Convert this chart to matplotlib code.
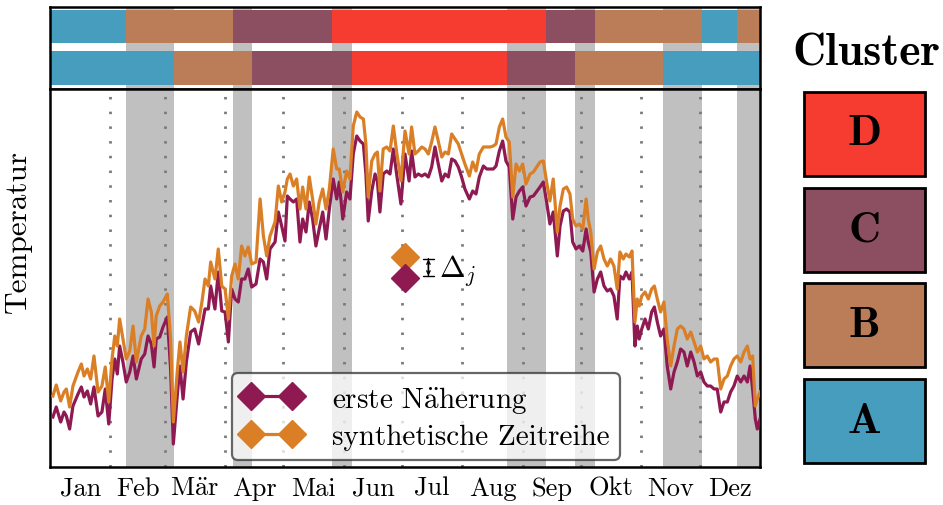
import numpy as np
import matplotlib
matplotlib.use("Agg")
import matplotlib.pyplot as plt
from matplotlib.patches import Rectangle

plt.rcParams['font.family'] = 'cmr10'
plt.rcParams['mathtext.fontset'] = 'cm'
plt.rcParams['axes.formatter.use_mathtext'] = True

# ---- data ----
days = [1.5, 3.2, 5.5, 7.2, 8.4, 10.1, 11.8, 14.4, 16.1, 17.5,
        19.2, 20.9, 22.6, 24.7, 26.7, 28.4, 30.2, 31.9, 33.3, 34.6,
        35.8, 37.5, 39.2, 41.0, 42.7, 44.4, 46.9, 48.7, 50.4, 52.1,
        53.5, 54.6, 56.4, 58.1, 60.3, 62.0, 63.4, 65.4, 66.8, 68.4,
        70.1, 72.3, 74.4, 76.4, 78.1,
        79.7, 81.4, 82.6, 84.8, 86.5, 88.3, 90.0, 91.7, 93.4, 95.1,
        96.8, 98.5, 100.2, 101.9, 103.7, 105.9, 108.0, 109.7, 111.4, 113.1,
        115.7, 117.4, 119.1, 120.8, 122.0, 123.4, 125.1, 126.8, 128.5, 129.9,
        131.6, 133.3, 135.0, 136.7, 138.4, 140.2, 141.9, 143.6, 145.6, 147.4,
        148.7, 150.5, 152.5, 154.2,
        155.9, 157.7, 159.4, 161.1, 162.4, 163.6, 165.4, 167.1, 168.3, 169.6,
        171.3, 173.1, 174.8, 176.5, 178.2, 180.4, 182.5, 184.6, 185.9, 187.6,
        189.3, 191.1, 192.8, 194.5, 196.2, 197.9, 199.6, 201.4, 203.1, 204.8,
        206.5, 208.2, 209.9, 211.6, 213.3, 215.6, 217.3, 219.0, 220.7, 222.8,
        224.5, 226.2, 227.9, 229.3, 231.0, 232.7, 234.4, 236.1, 237.9, 239.6,
        241.3, 243.0, 244.7, 246.8, 248.5,
        251.9, 253.6, 255.3, 257.0, 258.7, 260.8, 262.2, 263.9, 265.6, 267.3,
        268.7, 270.4, 272.1, 273.9, 275.6, 276.7, 278.0, 279.7, 281.4, 283.1,
        284.8, 286.5, 288.2, 289.9, 291.6, 293.0, 294.7, 296.1, 297.8, 299.2,
        300.7, 301.9, 302.9, 304.2, 305.9, 307.6, 309.3, 310.7, 312.2, 313.9,
        315.6, 317.3, 319.1, 320.8, 322.5, 324.2, 325.9, 327.6, 329.4, 331.1,
        332.8, 334.5, 336.2, 337.9, 339.6, 341.4, 343.0, 344.8, 346.5, 348.2,
        349.9, 351.6, 353.3, 355.1, 356.8, 358.5, 359.9, 361.2, 362.6, 363.6, 365.0]

erste = [1.2, 2.2, 0.7, 1.7, 1.3, 0.0, 2.3, 3.5, 4.2, 3.2,
         3.8, 2.5, 4.2, 1.3, 1.7, 4.0, 0.5, 5.0, 7.0, 5.5,
         8.3, 6.7, 4.7, 5.7, 7.3, 5.0, 7.0, 7.5, 9.3, 8.5,
         6.2, 9.0, 9.2, 10.2, 11.2, 6.0, -1.5, 3.3, 6.3, 3.0,
         6.7, 9.7, 10.0, 8.5, 10.3,
         12.0, 12.0, 14.3, 12.0, 15.7, 11.8, 11.7, 8.7, 14.0, 13.0,
         12.7, 15.0, 15.0, 16.0, 14.2, 14.5, 17.0, 16.7, 15.0, 18.0,
         18.7, 21.7, 20.3, 18.8, 23.3, 23.0, 22.7, 23.0, 18.7, 21.0,
         19.7, 22.7, 21.0, 18.3, 20.0, 21.7, 19.0, 22.0, 25.0, 23.0,
         24.7, 21.0, 23.7, 23.0,
         27.5, 29.3, 28.8, 28.5, 25.5, 20.8, 23.8, 25.5, 24.8, 21.7,
         25.5, 25.8, 25.5, 28.0, 25.5, 22.5, 27.5, 24.8, 27.8, 25.2,
         25.5, 25.3, 25.5, 25.2, 26.2, 28.2, 26.5, 24.8, 25.5, 25.2,
         27.0, 26.8, 26.2, 25.2, 24.0, 23.0, 23.8, 23.5, 25.2, 26.3,
         26.0, 26.0, 26.0, 26.3, 27.8, 28.8, 26.8, 26.2, 21.0, 23.2,
         23.8, 24.2, 22.3, 23.2, 23.3,
         24.2, 24.7, 22.7, 20.5, 21.7, 17.3, 20.3, 21.8, 22.0, 21.7,
         18.7, 18.0, 18.3, 17.8, 20.0, 18.7, 17.7, 13.7, 15.0, 15.7,
         14.3, 13.8, 14.0, 13.3, 11.0, 15.3, 15.0, 15.7, 15.0, 15.7,
         8.3, 10.3, 9.0, 10.0, 11.0, 10.0, 11.7, 12.2, 10.7, 9.3,
         10.0, 6.3, 4.0, 5.7, 6.7, 8.0, 7.7, 6.3, 7.7, 6.7,
         5.3, 5.7, 4.7, 4.3, 4.3, 4.0, 4.0, 1.7, 2.7, 2.7,
         3.7, 4.3, 5.3, 4.7, 5.3, 4.7, 6.3, 4.0, 1.0, 0.0, 1.0]

synthetisch = [3.3, 4.4, 2.8, 3.7, 4.0, 2.2, 4.3, 5.7, 6.5, 5.3,
               6.0, 5.0, 7.3, 3.7, 4.3, 6.2, 2.7, 7.0, 9.3, 8.3,
               11.0, 9.0, 7.0, 7.8, 10.3, 6.7, 9.3, 10.0, 13.0, 11.7,
               8.3, 11.3, 12.3, 12.7, 13.5, 9.0, 0.7, 5.7, 8.7, 5.7,
               9.3, 12.2, 11.8, 10.7, 12.7,
               15.0, 14.3, 16.7, 15.0, 18.0, 14.3, 14.0, 11.0, 15.3, 16.5,
               15.0, 18.3, 17.3, 18.2, 16.5, 16.7, 23.0, 19.3, 17.3, 19.3,
               20.7, 24.3, 22.7, 23.7, 25.0, 25.5, 24.3, 25.0, 22.0, 24.2,
               22.0, 25.2, 23.0, 20.5, 22.7, 24.0, 22.0, 24.0, 28.0, 26.0,
               26.0, 23.7, 25.8, 25.0,
               30.3, 31.7, 31.2, 31.0, 28.5, 23.2, 26.8, 27.5, 27.7, 23.8,
               28.0, 28.2, 27.8, 30.3, 27.7, 24.8, 29.8, 27.5, 30.2, 27.5,
               27.8, 28.2, 28.0, 27.5, 28.7, 30.2, 28.8, 27.2, 27.7, 27.5,
               29.5, 29.0, 28.5, 27.5, 26.5, 25.3, 26.7, 25.8, 27.5, 28.2,
               28.2, 28.2, 28.3, 28.5, 30.2, 31.0, 29.2, 28.7, 23.2, 26.5,
               25.8, 26.5, 24.5, 25.5, 25.7,
               26.7, 26.8, 24.7, 22.8, 25.0, 19.7, 22.3, 24.0, 24.2, 23.5,
               21.0, 20.3, 20.5, 20.0, 23.0, 21.0, 19.7, 16.0, 17.7, 18.3,
               17.0, 16.3, 17.0, 16.3, 14.0, 17.7, 17.0, 17.5, 17.2, 17.8,
               10.7, 13.0, 12.3, 13.3, 13.7, 13.0, 14.0, 14.3, 13.0, 11.7,
               12.7, 9.0, 6.3, 8.3, 10.0, 10.3, 10.0, 9.0, 9.7, 8.7,
               7.7, 8.3, 7.0, 7.3, 6.7, 7.0, 7.0, 4.0, 5.0, 5.3,
               6.3, 7.0, 7.3, 6.7, 7.7, 8.3, 7.0, 7.3, 2.3, 3.0, 3.7]

month_labels = ['Jan', 'Feb', r'M$\ddot{\mathrm{a}}$r', 'Apr', 'Mai', 'Jun',
                'Jul', 'Aug', 'Sep', 'Okt', 'Nov', 'Dez']
month_edges = [0, 31, 59, 90, 120, 151, 181, 212, 243, 273, 304, 334, 365]

# cluster assignment, two rows (start day of each segment)
row_oben_starts = [0, 39, 94, 145, 255, 280, 335, 353]
row_oben_labels = ['A', 'B', 'C', 'D', 'C', 'B', 'A', 'B']
row_unten_starts = [0, 64, 104, 155, 235, 270, 315]
row_unten_labels = ['A', 'B', 'C', 'D', 'C', 'B', 'A']

cluster_names = ['A', 'B', 'C', 'D']
cluster_colors = {'A': '#479dbe', 'B': '#bb7c58', 'C': '#8c4f62', 'D': '#f63b30'}

c_erste = '#8f1a52'
c_synth = '#db7f26'
span_gray = '#c0c0c0'


def label_at(starts, labels, d):
    idx = np.searchsorted(starts, d, side='right') - 1
    return labels[idx]


def diff_spans():
    # days where the two cluster rows disagree
    bounds = sorted(set(row_oben_starts + row_unten_starts + [365]))
    out = []
    for a, b in zip(bounds[:-1], bounds[1:]):
        m = 0.5 * (a + b)
        if label_at(row_oben_starts, row_oben_labels, m) != label_at(row_unten_starts, row_unten_labels, m):
            out.append((a, b))
    return out


fig = plt.figure(figsize=(9.43, 5.06), dpi=100)
W, H = 943.0, 506.0
ax_top = fig.add_axes([50 / W, 1 - 90 / H, 710 / W, 82 / H])
ax = fig.add_axes([50 / W, 1 - 467.5 / H, 710 / W, 377.5 / H])

spans = diff_spans()

# top: cluster bars
for a, b in spans:
    ax_top.axvspan(a, b, color=span_gray, lw=0, zorder=0)
for yrow, starts, labels in [(0.762, row_oben_starts, row_oben_labels),
                             (0.258, row_unten_starts, row_unten_labels)]:
    ends = starts[1:] + [365]
    for s, e, lab in zip(starts, ends, labels):
        ax_top.barh(yrow, e - s, left=s, height=0.41, color=cluster_colors[lab], lw=0, zorder=2)
ax_top.set_xlim(0, 365)
ax_top.set_ylim(0, 1)
ax_top.set_xticks([])
ax_top.set_yticks([])
for sp in ax_top.spines.values():
    sp.set_linewidth(1.8)

# main panel
for a, b in spans:
    ax.axvspan(a, b, color=span_gray, lw=0, zorder=0)
for m in month_edges[1:-1]:
    ax.axvline(m, color='#7a7a7a', lw=2.0, linestyle=(0, (0.9, 4.4)), zorder=1)

ax.plot(days, erste, color=c_erste, lw=2.3, marker='D', markersize=14, markevery=[],
        label=r'erste N$\ddot{\mathrm{a}}$herung', zorder=3)
ax.plot(days, synthetisch, color=c_synth, lw=2.3, marker='D', markersize=14, markevery=[],
        label='synthetische Zeitreihe', zorder=3)

ax.set_xlim(0, 365)
ax.set_ylim(-3.75, 34.0)
centers = [0.5 * (a + b) for a, b in zip(month_edges[:-1], month_edges[1:])]
ax.set_xticks(centers)
ax.set_xticklabels(month_labels, fontsize=19)
ax.tick_params(axis='x', length=0, pad=7)
ax.set_yticks([])
ax.set_ylabel('Temperatur', fontsize=22.5)
ax.yaxis.set_label_coords(-0.026, 0.626)
for sp in ax.spines.values():
    sp.set_linewidth(1.8)

leg = ax.legend(loc='lower left', bbox_to_anchor=(0.256, 0.017), borderaxespad=0,
                fontsize=21, numpoints=2, handlelength=2.0, framealpha=0.75,
                edgecolor='#333333', fancybox=True, borderpad=0.35, labelspacing=0.3,
                handletextpad=1.1)
leg.get_frame().set_linewidth(1.6)
for h in leg.legend_handles:
    h.set_markevery(None)
leg.set_zorder(5)

# Delta_j explanation
ax.plot([0.5], [0.555], 'D', color=c_synth, markersize=14, transform=ax.transAxes, zorder=4)
ax.plot([0.5], [0.499], 'D', color=c_erste, markersize=14, transform=ax.transAxes, zorder=4)
ax.annotate('', xy=(0.533, 0.558), xytext=(0.533, 0.496), xycoords='axes fraction',
            arrowprops=dict(arrowstyle='|-|', lw=1.0, color='black', mutation_scale=4))
ax.annotate('', xy=(0.533, 0.556), xytext=(0.533, 0.498), xycoords='axes fraction',
            arrowprops=dict(arrowstyle='<->', lw=1.0, color='black', mutation_scale=6))
ax.text(0.548, 0.522, r'$\Delta_j$', transform=ax.transAxes, fontsize=22,
        va='center', ha='left', zorder=4)

# cluster legend on the right
ax_cl = fig.add_axes([804 / W, 1 - 470.3 / H, 121 / W, 383.6 / H])
ax_cl.set_xlim(0, 1)
ax_cl.set_ylim(0, 4)
ax_cl.axis('off')
for i, name in enumerate(cluster_names):
    ax_cl.add_patch(Rectangle((0, i + 0.0625), 1, 0.875, facecolor=cluster_colors[name],
                              edgecolor='black', lw=2, clip_on=False))
    ax_cl.text(0.5, i + 0.5, name, fontfamily='cmb10', fontsize=32,
               ha='center', va='center')
fig.text(866 / W, 1 - 54 / H, 'Cluster', fontfamily='cmb10', fontsize=33,
         ha='center', va='center')

fig.savefig('out.png', dpi=100)
